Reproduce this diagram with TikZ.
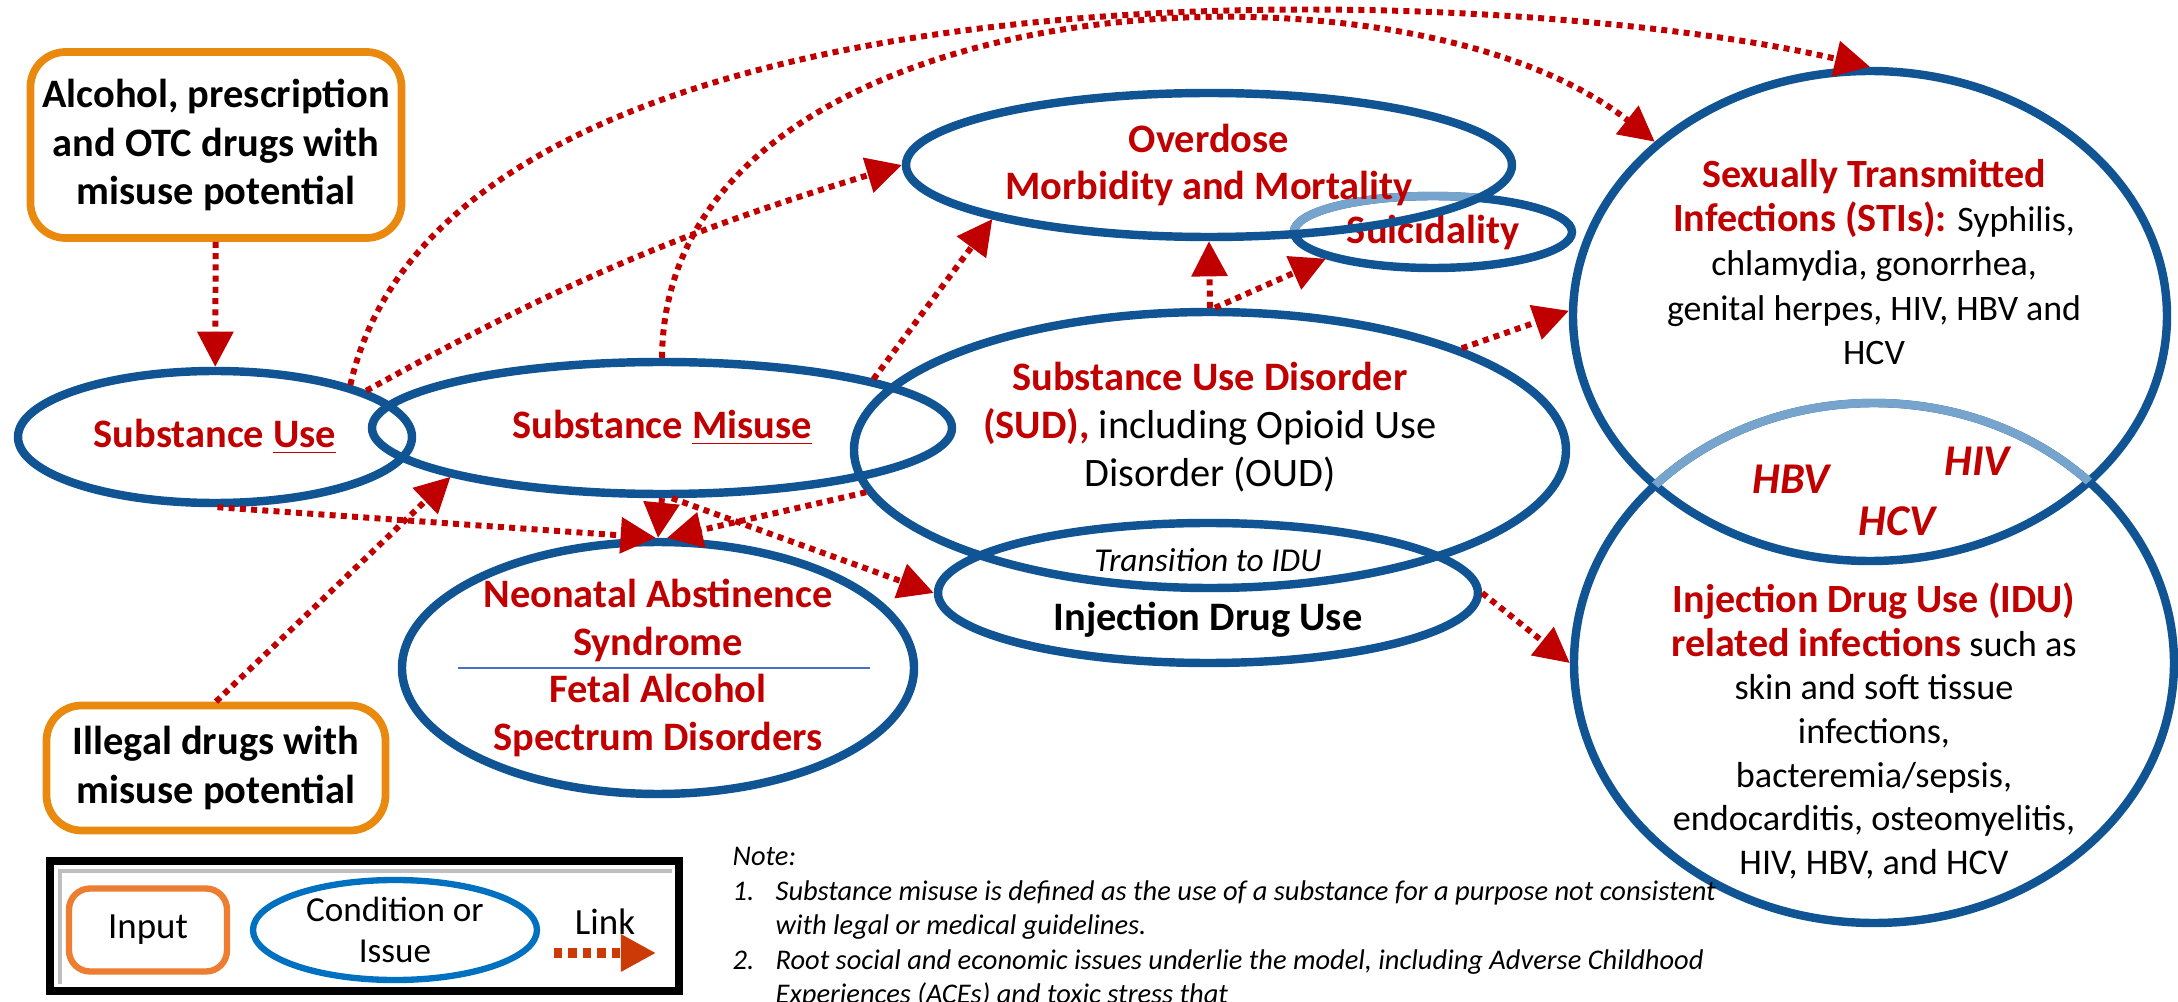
\documentclass[tikz,border=0pt]{standalone}
\usepackage{fontspec}
\setmainfont{Carlito}
\usepackage{tikz}
\usetikzlibrary{shapes.geometric,arrows.meta}

\definecolor{issueblue}{RGB}{16,84,148}
\definecolor{overlapblue}{RGB}{118,164,204}
\definecolor{inputorange}{RGB}{233,137,14}
\definecolor{keyorange}{RGB}{237,125,49}
\definecolor{keyblue}{RGB}{0,112,192}
\definecolor{linkred}{RGB}{192,0,0}
\definecolor{keylink}{RGB}{204,58,8}
\definecolor{splitblue}{RGB}{68,114,196}

\newcommand{\redtitle}[1]{{\bfseries\color{linkred}\fontsize{11.4}{12.6}\selectfont #1}}

\tikzset{
    input/.style={draw=inputorange, line width=2.2pt, rounded corners=10pt, align=center,
        font=\bfseries\fontsize{11.5}{13.8}\selectfont},
    title/.style={align=center, text=linkred, font=\bfseries\fontsize{11.5}{13.6}\selectfont},
    issue/.style={ellipse, draw=issueblue, line width=2.4pt, inner sep=0pt, title},
    overlap/.style={draw=overlapblue, line width=2.4pt},
    infotext/.style={align=center, font=\fontsize{10.2}{12.6}\selectfont},
    virus/.style={text=linkred, font=\bfseries\itshape\fontsize{12.5}{14}\selectfont},
    link/.style={draw=linkred, line width=1.7pt, dash pattern=on 1.7pt off 1.5pt,
        -{Triangle[length=10pt,width=10pt]}},
}

\begin{document}
\begin{tikzpicture}
    \useasboundingbox (0,0) rectangle (21.78,-10.02);
    % Draw the inputs
    \node[input, minimum width=3.70cm, minimum height=1.86cm] (alcohol) at (2.16,-1.45) {Alcohol, prescription\\and OTC drugs with\\misuse potential};
    \node[input, minimum width=3.39cm, minimum height=1.25cm] (illegal) at (2.16,-7.68) {Illegal drugs with\\misuse potential};
    % Draw the conditions and issues
    \node[issue, minimum width=3.94cm, minimum height=1.32cm] (use) at (2.15,-4.37) {Substance \underline{Use}};
    \node[issue, minimum width=5.80cm, minimum height=1.32cm] (misuse) at (6.62,-4.28) {Substance \underline{Misuse}};
    \node[issue, minimum width=7.12cm, minimum height=2.76cm] (sud) at (12.10,-4.50) {};
    \node[title] (sudlabel) at (12.10,-4.27) {Substance Use Disorder\\(SUD), {\mdseries\color{black}including Opioid Use}\\{\mdseries\color{black}Disorder (OUD)}};
    \node[issue, minimum width=2.78cm, minimum height=0.72cm] (suicide) at (14.33,-2.32) {Suicidality};
    \begin{scope}
        \clip (12.09,-1.65) ellipse [x radius=3.03, y radius=0.72];
        \draw[overlap] (suicide.center) ellipse [x radius=1.39, y radius=0.36];
    \end{scope}
    \node[issue, minimum width=6.06cm, minimum height=1.44cm] (overdose) at (12.09,-1.65) {Overdose\\Morbidity and Mortality};
    \node[issue, minimum width=5.12cm, minimum height=2.32cm] (nas) at (6.58,-6.68) {Neonatal Abstinence\\Syndrome\\Fetal Alcohol\\Spectrum Disorders};
    \draw[splitblue, line width=0.6pt] ([xshift=-2.00cm]nas.center) -- ([xshift=2.12cm]nas.center);
    \node[issue, minimum width=5.40cm, minimum height=1.40cm, text=black] (idu) at (12.08,-5.93) {{\mdseries\itshape\fontsize{9.5}{11.5}\selectfont Transition to IDU}\\[3pt]Injection Drug Use};
    % Draw the infection circles
    \node[issue, minimum width=5.94cm, minimum height=4.90cm] (sti) at (18.70,-3.16) {};
    \node[issue, minimum width=6.00cm, minimum height=5.20cm] (infection) at (18.74,-6.63) {};
    \begin{scope}
        \clip (sti.center) ellipse [x radius=2.97, y radius=2.45];
        \draw[overlap] (infection.center) ellipse [x radius=3.00, y radius=2.60];
    \end{scope}
    \node[infotext] (stilabel) at (18.74,-2.62) {\redtitle{Sexually Transmitted}\\\redtitle{Infections (STIs):} Syphilis,\\chlamydia, gonorrhea,\\genital herpes, HIV, HBV and\\HCV};
    \node[infotext, font=\fontsize{10.3}{12.4}\selectfont] (infectionlabel) at (18.74,-7.31) {\redtitle{Injection Drug Use (IDU)}\\\redtitle{related infections} such as\\skin and soft tissue\\infections,\\bacteremia/sepsis,\\endocarditis, osteomyelitis,\\HIV, HBV, and HCV};
    \node[virus] (hbv) at (17.91,-4.79) {HBV};
    \node[virus] (hiv) at (19.77,-4.61) {HIV};
    \node[virus] (hcv) at (18.97,-5.21) {HCV};
    % Draw the links
    \draw[link] (alcohol) -- (use);
    \draw[link] (illegal.north) -- (misuse.193);
    \draw[link] (use.272) -- (nas.91);
    \draw[link] (misuse.south) -- (nas.north);
    \draw[link] (sud.187) -- (nas.86);
    \draw[link] (misuse.278) -- (idu.west);
    \draw[link] (use.17) to[bend left=6] (overdose.west);
    \draw[link] (misuse.13) -- (overdose.194);
    \draw[link] (sud.north) -- (overdose.south);
    \draw[link] (sud.88) -- (suicide.194);
    \draw[link] (sud.22) -- (sti.179);
    \draw[link] (idu.east) -- (infection.west);
    \draw[link] (use.21) .. controls (4.5,0.6) and (15.0,0.2) .. (sti.north);
    \draw[link] (misuse.north) .. controls (6.65,0.2) and (14.0,0.6) .. (sti.141);
    % Draw the key
    \draw[line width=2.3pt] (0.50,-8.61) rectangle (6.79,-9.91);
    \draw[black!25, line width=1.2pt] (0.60,-9.84) -- (0.60,-8.71) -- (6.72,-8.71);
    \node[draw=keyorange, line width=1.8pt, rounded corners=6pt, minimum width=1.58cm, minimum height=0.83cm, font=\fontsize{10.5}{12.6}\selectfont] (inputkey) at (1.48,-9.30) {Input};
    \node[ellipse, draw=keyblue, line width=1.8pt, inner sep=0pt, minimum width=2.84cm, minimum height=1.00cm, align=center, font=\fontsize{10}{11.7}\selectfont] (issuekey) at (3.95,-9.30) {Condition or\\Issue};
    \node[font=\fontsize{10.5}{12.6}\selectfont] (linkkey) at (6.05,-9.22) {Link};
    \coordinate (linkfrom) at (5.54,-9.53);
    \coordinate (linkto) at (6.56,-9.53);
    \draw[link, draw=keylink, line width=2.8pt, dash pattern=on 2.4pt off 1.7pt] (linkfrom) -- (linkto);
    % Draw the note
    \node[anchor=north west, inner sep=0pt, font=\itshape\fontsize{8.1}{9.8}\selectfont] (note) at (7.32,-8.41) {\begin{tabular}{@{}p{0.43cm}@{}l@{}}
        \multicolumn{2}{@{}l}{Note:}\\
        1. & Substance misuse is defined as the use of a substance for a purpose not consistent\\
           & with legal or medical guidelines.\\
        2. & Root social and economic issues underlie the model, including Adverse Childhood\\
           & Experiences (ACEs) and toxic stress that
    \end{tabular}};
\end{tikzpicture}
\end{document}
